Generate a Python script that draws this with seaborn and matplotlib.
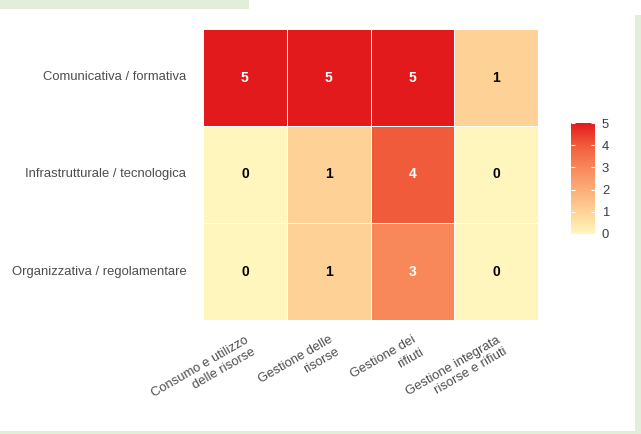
import numpy as np
import pandas as pd
import matplotlib
matplotlib.use("Agg")
import matplotlib.pyplot as plt
import seaborn as sns
from matplotlib.colors import LinearSegmentedColormap
from matplotlib.patches import Rectangle

# --- datos ---
tipologie = [
    "Comunicativa / formativa",
    "Infrastrutturale / tecnologica",
    "Organizzativa / regolamentare",
]
ambiti = [
    "Consumo e utilizzo\ndelle risorse",
    "Gestione delle\nrisorse",
    "Gestione dei\nrifiuti",
    "Gestione integrata\nrisorse e rifiuti",
]
conteggi = [
    [5, 5, 5, 1],
    [0, 1, 4, 0],
    [0, 1, 3, 0],
]
colori_scala = ["#FFF6BD", "#FED297", "#FCAD78", "#F8875A", "#F05B3C", "#E31A1C"]

df = pd.DataFrame(conteggi, index=tipologie, columns=ambiti)

sns.set_style("white")
plt.rcParams["font.family"] = ["Liberation Sans", "DejaVu Sans"]

cmap = LinearSegmentedColormap.from_list("giallo_rosso", colori_scala)

fig = plt.figure(figsize=(6.41, 4.34), dpi=100)
ax = fig.add_axes([203 / 641, 1 - 320 / 434, 335 / 641, 291 / 434])
cax = fig.add_axes([571 / 641, 1 - 234 / 434, 24 / 641, 111 / 434])

sns.heatmap(
    df,
    ax=ax,
    cbar_ax=cax,
    cmap=cmap,
    vmin=0,
    vmax=5,
    annot=False,
    linewidths=0.5,
    linecolor="white",
)

# annotazioni
for i in range(len(tipologie)):
    for j in range(len(ambiti)):
        v = df.iloc[i, j]
        ax.text(
            j + 0.5, i + 0.5, str(v),
            ha="center", va="center",
            fontsize=10, fontweight="bold",
            color="white" if v >= 3 else "black",
        )

ax.tick_params(axis="both", length=0)
ax.tick_params(axis="y", pad=12)
ax.tick_params(axis="x", pad=10)
ax.set_yticklabels(tipologie, rotation=0, va="center", fontsize=9.4, color="#4D4D4D")
ax.set_xticklabels(
    ambiti, rotation=30, ha="right", rotation_mode="anchor",
    multialignment="right", fontsize=9.4, color="#4D4D4D",
)
ax.set_xlabel("")
ax.set_ylabel("")

# barra colori
cbar = ax.collections[0].colorbar
cbar.set_ticks([0, 1, 2, 3, 4, 5])
cbar.outline.set_visible(False)
cax.set_axisbelow(False)
cax.tick_params(
    axis="y", direction="in", length=3, width=0.8, colors="white",
    left=True, right=True, labelleft=False, labelright=True,
    labelsize=9.4, labelcolor="#3A3A4A", pad=5,
)

# cornice verde
verde = "#E2EED9"
fig.add_artist(Rectangle((0, 1 - 8.5 / 434), 249 / 641, 8.5 / 434,
                         transform=fig.transFigure, color=verde, lw=0))
fig.add_artist(Rectangle((635 / 641, 3 / 434), 6 / 641, 416 / 434,
                         transform=fig.transFigure, color=verde, lw=0))
fig.add_artist(Rectangle((0, 0), 1, 3 / 434,
                         transform=fig.transFigure, color=verde, lw=0))

fig.savefig("out.png", dpi=100)
